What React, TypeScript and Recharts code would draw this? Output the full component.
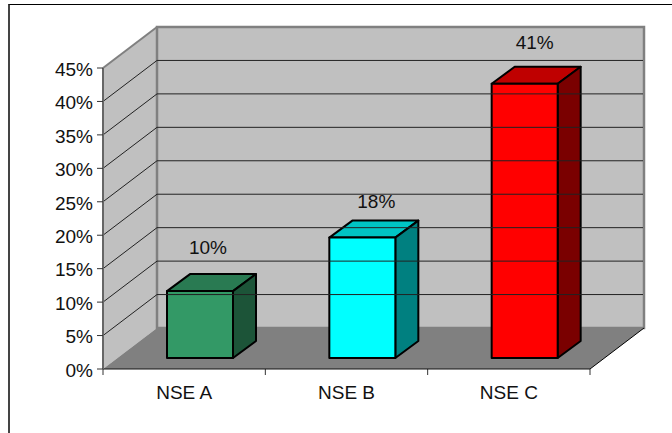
import React from 'react';
import { BarChart, Bar, XAxis, YAxis, ReferenceArea, ReferenceLine, LabelList } from 'recharts';

const categories = ['NSE A', 'NSE B', 'NSE C'];
const shares = [10, 18, 41];
const yTicks = [0, 5, 10, 15, 20, 25, 30, 35, 40, 45];
const gridTicks = [5, 10, 15, 20, 25, 30, 35, 40];

const frontColors = ['#339966', '#00ffff', '#ff0000'];
const topColors = ['#297a52', '#00c4c4', '#bf0000'];
const sideColors = ['#1c5438', '#008080', '#7a0000'];

const chartData = categories.map((name, i) => ({ name, share: shares[i] }));

// how far the back wall sits behind the axis plane
const WALL_DX = 54;
const WALL_DY = -41;
// bars stand partway into the floor
const BAR_X = 16;
const BAR_Y = -11;
const BAR_DX = 23;
const BAR_DY = -17;
// hand placed value labels
const labelNudge = [
  { dx: 24, dy: -55 },
  { dx: 30, dy: -47 },
  { dx: 26, dy: -52 },
];

const FONT = '"Liberation Sans", Arial, sans-serif';
const TEXT_SIZE = 19;

const Walls = ({ x, y, width, height }: any) => {
  const bottom = y + height;
  const right = x + width;
  return (
    <g>
      <polygon
        points={`${x},${y} ${x + WALL_DX},${y + WALL_DY} ${x + WALL_DX},${bottom + WALL_DY} ${x},${bottom}`}
        fill="#c0c0c0"
      />
      <rect x={x + WALL_DX} y={y + WALL_DY} width={width} height={height} fill="#c0c0c0" stroke="#808080" strokeWidth={2.5} />
      <line x1={x} y1={y} x2={x + WALL_DX} y2={y + WALL_DY} stroke="#808080" strokeWidth={2} />
      <polygon
        points={`${x},${bottom} ${x + WALL_DX},${bottom + WALL_DY} ${right + WALL_DX},${bottom + WALL_DY} ${right},${bottom}`}
        fill="#808080"
      />
      <line x1={right} y1={bottom} x2={right + WALL_DX} y2={bottom + WALL_DY} stroke="#000" />
      {/* category boundary ticks */}
      {[0, 1, 2, 3].map((i) => {
        const tx = x + (i * width) / categories.length;
        return <line key={i} x1={tx} y1={bottom} x2={tx} y2={bottom + 6} stroke="#333" />;
      })}
    </g>
  );
};

// each gridline runs up the side wall and then along the back wall
const GridLine = ({ x1, x2, y1 }: any) => (
  <polyline
    points={`${x1},${y1} ${x1 + WALL_DX},${y1 + WALL_DY} ${x2 + WALL_DX - 1},${y1 + WALL_DY}`}
    fill="none"
    stroke="#222"
    strokeWidth={1}
  />
);

const Box = ({ x, y, width, height, index }: any) => {
  const left = x + BAR_X;
  const top = y + BAR_Y;
  const right = left + width;
  const bottom = top + height;
  return (
    <g stroke="#000" strokeWidth={2} strokeLinejoin="round">
      <polygon
        points={`${left},${top} ${left + BAR_DX},${top + BAR_DY} ${right + BAR_DX},${top + BAR_DY} ${right},${top}`}
        fill={topColors[index]}
      />
      <polygon
        points={`${right},${top} ${right + BAR_DX},${top + BAR_DY} ${right + BAR_DX},${bottom + BAR_DY} ${right},${bottom}`}
        fill={sideColors[index]}
      />
      <rect x={left} y={top} width={width} height={height} fill={frontColors[index]} />
    </g>
  );
};

const ValueLabel = ({ x, y, width, value, index }: any) => {
  const nudge = labelNudge[index];
  return (
    <text
      x={x + width / 2 + nudge.dx}
      y={y + nudge.dy}
      textAnchor="middle"
      dominantBaseline="central"
      fontFamily={FONT}
      fontSize={TEXT_SIZE}
      fill="#111"
    >
      {value}%
    </text>
  );
};

export default function App() {
  return (
    <div style={{ position: 'absolute', left: 0, top: 0, width: 672, height: 433, overflow: 'hidden', background: '#fff' }}>
      {/* outer chart frame runs past the right and bottom edges */}
      <div style={{ position: 'absolute', left: 8, top: 4, width: 800, height: 600, borderTop: '1px solid #000', borderLeft: '2px solid #444' }} />
      <BarChart
        width={672}
        height={433}
        data={chartData}
        margin={{ top: 68, right: 82, bottom: 34, left: 43 }}
        style={{ position: 'absolute', left: 0, top: 0 }}
      >
        <ReferenceArea y1={0} y2={45} shape={Walls} ifOverflow="visible" />
        {gridTicks.map((t) => (
          <ReferenceLine key={t} y={t} shape={GridLine} ifOverflow="visible" />
        ))}
        <XAxis
          dataKey="name"
          height={30}
          tickLine={false}
          axisLine={{ stroke: '#111' }}
          tick={{ fontFamily: FONT, fontSize: TEXT_SIZE, fill: '#111' }}
          tickMargin={11}
        />
        <YAxis
          width={60}
          domain={[0, 45]}
          ticks={yTicks}
          interval={0}
          tickFormatter={(v: number) => `${v}%`}
          tickSize={6}
          tickMargin={4}
          tickLine={{ stroke: '#333' }}
          axisLine={{ stroke: '#666', strokeWidth: 2 }}
          tick={{ fontFamily: FONT, fontSize: TEXT_SIZE, fill: '#111', dy: 1 }}
        />
        <Bar dataKey="share" barSize={66} shape={Box} isAnimationActive={false}>
          <LabelList dataKey="share" content={ValueLabel} />
        </Bar>
      </BarChart>
    </div>
  );
}
